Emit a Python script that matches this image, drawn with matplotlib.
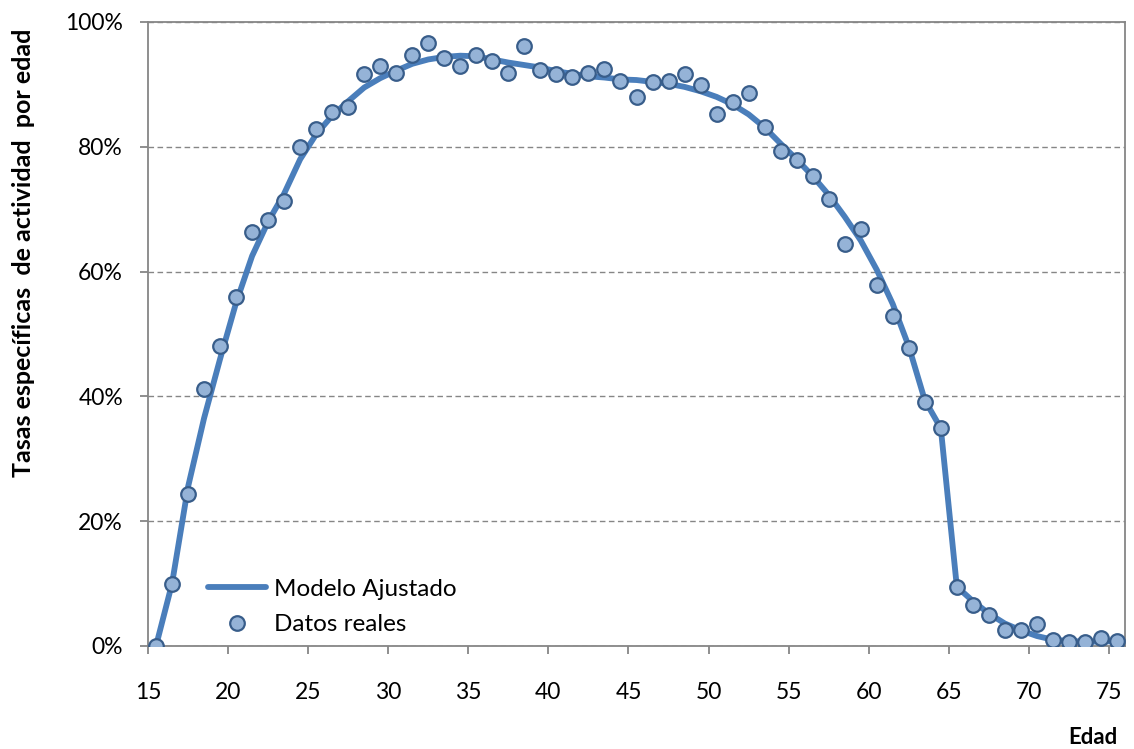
import numpy as np
import matplotlib
matplotlib.use("Agg")
import matplotlib.pyplot as plt
from matplotlib.ticker import FuncFormatter

# edad (años cumplidos); los puntos se sitúan en el centro de cada año
edad = np.arange(15, 76)

datos_reales = [
    0.0, 9.9, 24.4, 41.2, 48.1, 56.0, 66.4, 68.3, 71.3, 79.9,
    82.9, 85.5, 86.4, 91.7, 92.9, 91.9, 94.7, 96.7, 94.3, 92.9,
    94.7, 93.8, 91.9, 96.2, 92.3, 91.6, 91.2, 91.8, 92.4, 90.6,
    88.0, 90.4, 90.6, 91.7, 89.9, 85.2, 87.2, 88.6, 83.1, 79.3,
    77.9, 75.3, 71.7, 64.4, 66.8, 57.9, 52.9, 47.7, 39.1, 34.9,
    9.5, 6.5, 5.0, 2.6, 2.6, 3.5, 1.0, 0.7, 0.6, 1.3,
    0.8,
]

modelo_ajustado = [
    0.0, 10.0, 25.5, 36.5, 46.0, 55.0, 62.5, 68.0, 72.5, 78.0,
    82.0, 85.0, 87.3, 89.5, 91.0, 92.2, 93.3, 94.0, 94.4, 94.6,
    94.5, 94.0, 93.5, 93.1, 92.7, 92.1, 91.7, 91.3, 91.1, 90.8,
    90.7, 90.4, 90.1, 89.6, 88.9, 88.0, 86.8, 85.2, 83.1, 80.5,
    78.0, 75.3, 72.3, 68.8, 65.0, 60.3, 54.8, 48.0, 39.4, 34.9,
    9.5, 7.2, 5.2, 3.6, 2.5, 1.6, 1.0, 0.8, 0.7, 0.7,
    0.8,
]

x_ticks = np.arange(15, 80, 5)
y_ticks = [0, 20, 40, 60, 80, 100]

FONT = ["Lato", "DejaVu Sans"]
GRAY = "#868686"

fig = plt.figure(figsize=(11.34, 7.49), dpi=100)
ax = fig.add_axes([148 / 1134, 1 - 646 / 749, (1125 - 148) / 1134, (646 - 22) / 749])

x = edad + 0.5
ax.plot(x, np.array(modelo_ajustado) / 100, color="#4A7EBB", lw=4.2,
        solid_joinstyle="round", solid_capstyle="round", label="Modelo Ajustado", zorder=3)
ax.plot(x, np.array(datos_reales) / 100, ls="none", marker="o", ms=10.5,
        mfc="#95B3D7", mec="#385D8A", mew=1.6, label="Datos reales", zorder=4)

ax.set_xlim(15, 76)
ax.set_ylim(0, 1)
ax.set_xticks(x_ticks)
ax.set_yticks(np.array(y_ticks) / 100)
ax.yaxis.set_major_formatter(FuncFormatter(lambda v, p: f"{v * 100:.0f}%"))

for s in ax.spines.values():
    s.set_color(GRAY)
    s.set_linewidth(1.3)

ax.yaxis.grid(True, ls=(0, (4, 2.5)), color=GRAY, lw=1.0)
ax.set_axisbelow(True)
ax.tick_params(axis="both", direction="out", length=6, width=1.3, color=GRAY,
               labelsize=16.5, labelcolor="black")
ax.tick_params(axis="x", pad=20)
ax.tick_params(axis="y", pad=12)
for lab in ax.get_xticklabels() + ax.get_yticklabels():
    lab.set_family(FONT)

fig.text(24 / 1134, 1 - 253 / 749, "Tasas específicas  de actividad  por edad",
         rotation=90, ha="center", va="center", fontsize=18, fontweight="bold",
         family=["Liberation Sans Narrow", "Lato", "DejaVu Sans"])
fig.text(1118 / 1134, 1 - 738 / 749, "Edad", ha="right", va="center",
         fontsize=16, fontweight="bold", family=["Lato", "DejaVu Sans"])

leg = ax.legend(loc="upper left", bbox_to_anchor=(186 / 1134, 1 - 557 / 749),
                bbox_transform=fig.transFigure, frameon=False, handlelength=2.4,
                handletextpad=0.3, labelspacing=0.6, prop={"family": FONT, "size": 17.5})

fig.savefig("out.png", dpi=100)
